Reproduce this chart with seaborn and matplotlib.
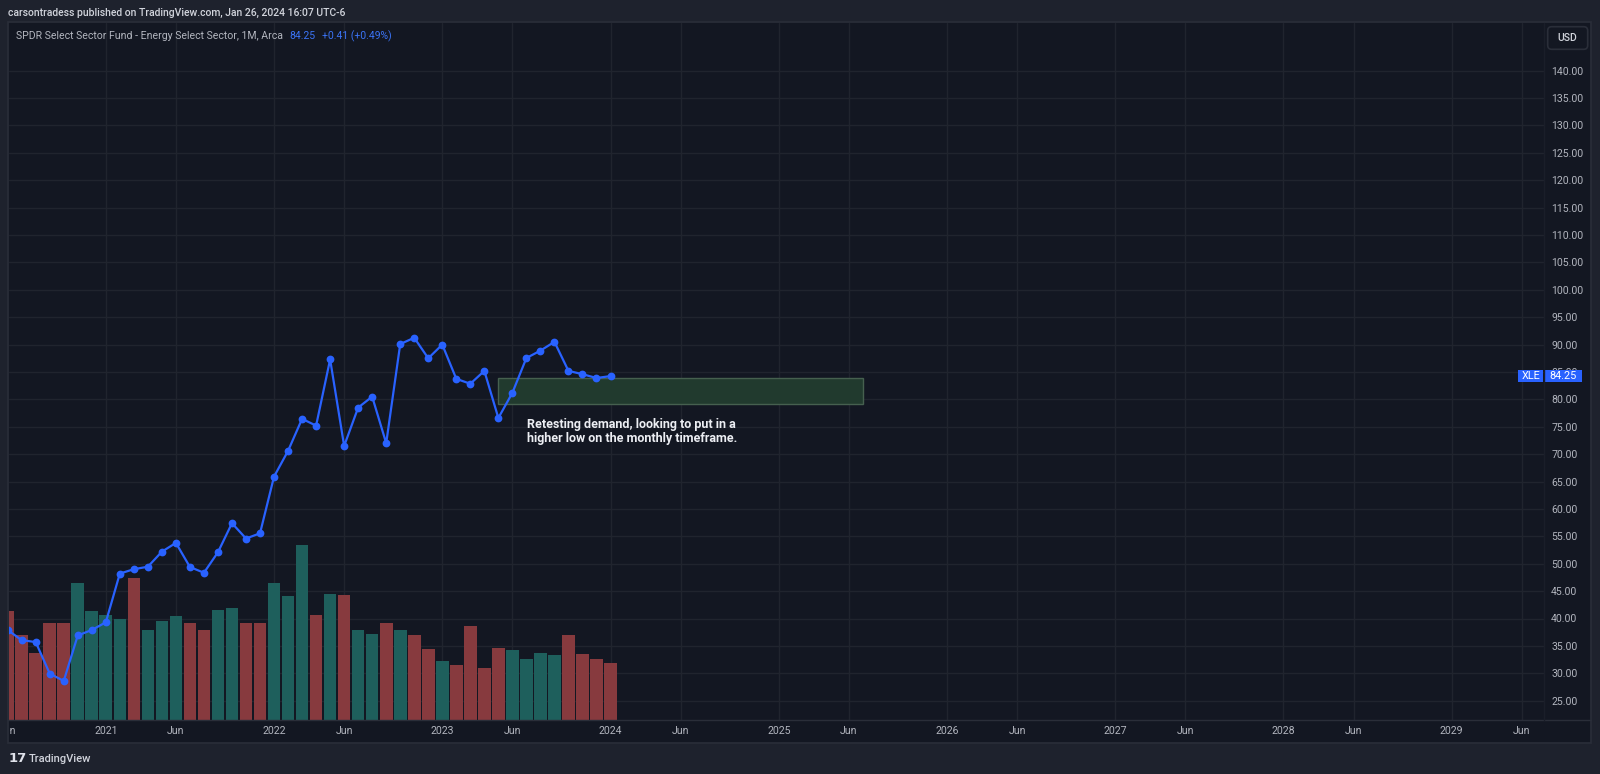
import numpy as np
import pandas as pd
import matplotlib
matplotlib.use("Agg")
import matplotlib.pyplot as plt
import seaborn as sns
from matplotlib.patches import Rectangle, FancyBboxPatch
from matplotlib.transforms import (blended_transform_factory, Bbox,
                                   TransformedBbox, ScaledTranslation,
                                   IdentityTransform)

# ---------------- data ----------------
first_month = "2020-06"
close = [37.9, 36.05, 35.7, 29.95, 28.6, 36.9, 37.9, 39.3, 48.2, 49.0,
         49.45, 52.2, 53.8, 49.4, 48.35, 52.1, 57.4, 54.6, 55.55, 65.9,
         70.6, 76.45, 75.2, 87.3, 71.5, 78.5, 80.5, 72.0, 90.1, 91.25,
         87.5, 90.0, 83.75, 82.85, 85.2, 76.6, 81.2, 87.55, 88.9, 90.5,
         85.2, 84.6, 83.9, 84.25]
volume_m = [562, 442, 348, 504, 504, 712, 562, 546, 525, 738,
            468, 510, 536, 504, 468, 572, 582, 504, 504, 712,
            640, 905, 541, 655, 650, 468, 447, 504, 468, 437,
            369, 302, 286, 484, 270, 374, 359, 317, 348, 338,
            437, 343, 317, 296]
direction = ["down", "down", "down", "down", "down", "up", "up", "up", "up", "down",
             "up", "up", "up", "down", "down", "up", "up", "down", "down", "up",
             "up", "up", "down", "up", "down", "up", "up", "down", "up", "down",
             "down", "up", "down", "down", "down", "down", "up", "up", "up", "up",
             "down", "down", "down", "down"]
price_ticks = list(range(25, 145, 5))
time_ticks = ["2021-01", "2021-06", "2022-01", "2022-06", "2023-01", "2023-06",
              "2024-01", "2024-06", "2025-01", "2025-06", "2026-01", "2026-06",
              "2027-01", "2027-06", "2028-01", "2028-06", "2029-01", "2029-06"]
partial_tick = "2020-06"
zone_start, zone_end = "2023-05", "2025-07"
zone_low, zone_high = 79.07, 83.9
last_price = 84.25
note = "Retesting demand, looking to put in a\nhigher low on the monthly timeframe."
note_month, note_price = "2023-06", 76.6

# ---------------- helpers ----------------
p0 = pd.Period(first_month, freq="M")
def midx(s):
    return (pd.Period(s, freq="M") - p0).n

idx = np.arange(len(close))
W, H = 1600, 774
def fx(x): return x / W
def fy(y): return 1 - y / H

BG = "#131722"
OUTER = "#1e222d"
BORDER = "#2a2e39"
GRID = "#20242e"
TXT = "#b2b5be"
BLUE = "#2962ff"
GREEN = "#1e5f5c"
RED = "#873a3e"
FONT = ["Roboto", "DejaVu Sans"]

sns.set_theme(style="dark")
plt.rcParams["font.family"] = FONT

fig = plt.figure(figsize=(16, 7.74), dpi=100, facecolor=OUTER)

# chart panel
fig.add_artist(Rectangle((fx(8), fy(742.7)), fx(1590.7 - 8), (742.7 - 22.3) / H,
                         transform=fig.transFigure, facecolor=BG,
                         edgecolor=BORDER, lw=1.2, zorder=-1))

L, R, T, B = 9, 1544, 23, 719.5
ax = fig.add_axes([fx(L), fy(B), fx(R - L), (B - T) / H])
ax_vol = ax.twinx()
ax_line = ax.twinx()

# price scale math
px_per_unit = 5.478
y140 = 70.7
ylo = 140 - (B - y140) / px_per_unit
yhi = 140 + (y140 - T) / px_per_unit
px_per_month = 14.02
x0px = 7.66
xlo = (L - x0px) / px_per_month
xhi = (R - x0px) / px_per_month

# ---- grid axes ----
ax.set_facecolor(BG)
for s in ax.spines.values():
    s.set_visible(False)
ax.set_ylim(ylo, yhi)
ax.set_yticks(price_ticks)
ax.set_yticklabels([f"{v:.2f}" for v in price_ticks])
ax.yaxis.tick_right()
tick_pos = [midx(t) for t in time_ticks]
tick_lab = ["Jun" if t.endswith("-06") else t[:4] for t in time_ticks]
ax.set_xticks(tick_pos)
ax.set_xticklabels(tick_lab)
ax.grid(True, color=GRID, lw=1)
ax.tick_params(axis="both", length=0, colors=TXT, labelsize=7.6)
ax.tick_params(axis="y", pad=5.2)
ax.tick_params(axis="x", pad=4.5)
ax.set_axisbelow(True)

# ---- volume ----
df = pd.DataFrame({"m": idx, "vol": volume_m, "dir": direction})
sns.barplot(data=df, x="m", y="vol", hue="dir",
            palette={"up": GREEN, "down": RED}, native_scale=True,
            dodge=False, width=0.9, saturation=1, legend=False,
            errorbar=None, linewidth=0, ax=ax_vol)
ax_vol.set_ylim(0, (B - T) * 5.2)
ax_vol.set_yticks([])
ax_vol.set_xlabel("")
ax_vol.set_ylabel("")
ax_vol.tick_params(right=False, labelright=False)
for s in ax_vol.spines.values():
    s.set_visible(False)

# ---- price line ----
sns.lineplot(x=idx, y=close, ax=ax_line, color=BLUE, linewidth=1.6,
             marker="o", markersize=5.6, markeredgewidth=0)
ax_line.set_ylim(ylo, yhi)
ax_line.set_yticks([])
ax_line.tick_params(right=False, labelright=False)
ax_line.set_xlabel("")
ax_line.set_ylabel("")
for s in ax_line.spines.values():
    s.set_visible(False)

# demand zone
zx0, zx1 = midx(zone_start), midx(zone_end)
ax_line.add_patch(Rectangle((zx0, zone_low), zx1 - zx0, zone_high - zone_low,
                            facecolor="#213a2e", edgecolor="#46604f",
                            lw=1, zorder=1))
ax_line.text(midx(note_month) + 1.05, note_price, note, ha="left", va="top",
             color="#eceef3", fontsize=9.0, fontweight="semibold",
             linespacing=1.08, zorder=5)

ax.set_xlim(xlo, xhi)
ax_line.set_xlim(xlo, xhi)

# partial first time label, clipped at the plot's left edge
tr = blended_transform_factory(ax.transData, ax.transAxes) + \
    ScaledTranslation(0, -4.5 / 72, fig.dpi_scale_trans)
t0 = ax.text(midx(partial_tick), 0, "Jun", transform=tr, ha="center",
             va="top", color=TXT, fontsize=7.6)
t0.set_clip_on(True)
t0.set_clip_box(TransformedBbox(Bbox([[fx(L), 0], [fx(R), 1]]),
                                fig.transFigure))

# separators
fig.add_artist(plt.Line2D([fx(8), fx(1590.7)], [fy(B), fy(B)],
                          transform=fig.transFigure, color=BORDER, lw=1))
fig.add_artist(plt.Line2D([fx(R), fx(R)], [fy(T), fy(B)],
                          transform=fig.transFigure, color="#1a1e29", lw=1))

# last price labels
bt = blended_transform_factory(fig.transFigure, ax_line.transData)
hh = 6.4 / px_per_unit
fig.add_artist(Rectangle((fx(1518.3), last_price - hh), fx(25), 2 * hh,
                         transform=bt, facecolor=BLUE, edgecolor="none"))
fig.add_artist(Rectangle((fx(1544.5), last_price - hh), fx(37.5), 2 * hh,
                         transform=bt, facecolor=BLUE, edgecolor="none"))
fig.text(fx(1530.8), last_price, "XLE", transform=bt, ha="center",
         va="center", color="white", fontsize=7.8)
fig.text(fx(1563.2), last_price, f"{last_price:.2f}", transform=bt,
         ha="center", va="center", color="white", fontsize=7.8)

# USD box
fig.add_artist(FancyBboxPatch((1547.7, H - 49.3), 40, 22.6,
                              boxstyle="round,pad=0,rounding_size=4",
                              transform=IdentityTransform(),
                              facecolor=BG, edgecolor=BORDER, lw=1.2))
fig.text(fx(1567.7), fy(38), "USD", ha="center", va="center",
         color="#d1d4dc", fontsize=7.6, fontweight="medium")

# header & legend
fig.text(fx(8), fy(13.3), "carsontradess published on TradingView.com, Jan 26, 2024 16:07 UTC-6",
         ha="left", va="center", color="#d1d4dc", fontsize=7.5,
         fontweight="medium")
fig.text(fx(16), fy(36), "SPDR Select Sector Fund - Energy Select Sector, 1M, Arca",
         ha="left", va="center", color="#b2b5be", fontsize=7.55)
fig.text(fx(289), fy(36), "84.25", ha="left", va="center", color="#3b74f6",
         fontsize=7.5)
fig.text(fx(322), fy(36), "+0.41 (+0.49%)", ha="left", va="center",
         color="#3b74f6", fontsize=7.5)

# footer logo
fig.text(fx(8.5), fy(758.5), "17", ha="left", va="center", color="#e0e3eb",
         fontsize=9.5, fontweight="heavy", family=["DejaVu Sans"])
fig.text(fx(28.5), fy(758.5), "TradingView", ha="left", va="center",
         color="#d1d4dc", fontsize=8.0, fontweight="medium")

fig.savefig("out.png", dpi=100, facecolor=OUTER)
